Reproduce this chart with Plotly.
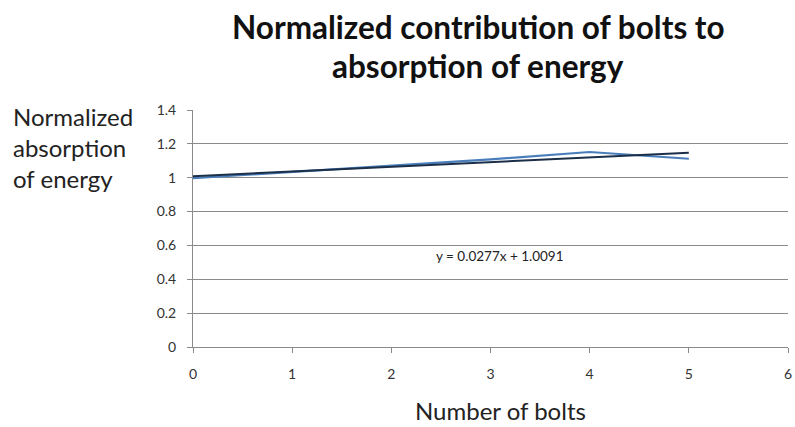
import plotly.graph_objects as go

# Data
bolts = [0, 1, 2, 3, 4, 5]
absorption = [0.997, 1.033, 1.068, 1.108, 1.152, 1.112]
trend_slope = 0.0277
trend_intercept = 1.0091
x_ticks = [0, 1, 2, 3, 4, 5, 6]
y_ticks = [0, 0.2, 0.4, 0.6, 0.8, 1, 1.2, 1.4]
y_tick_labels = ["0", "0.2", "0.4", "0.6", "0.8", "1", "1.2", "1.4"]

trend_x = [min(bolts), max(bolts)]
trend_y = [trend_slope * v + trend_intercept for v in trend_x]

FONT = "Lato"
W, H = 795, 427
L, R, T, B = 193, 3, 110, 80
pw, ph = W - L - R, H - T - B

def px(xp):
    return (xp - L) / pw

def py(yp):
    return (H - B - yp) / ph

fig = go.Figure()
fig.add_trace(go.Scatter(x=bolts, y=absorption, mode="lines",
                         line=dict(color="#4a7ebb", width=2.2), showlegend=False))
fig.add_trace(go.Scatter(x=trend_x, y=trend_y, mode="lines",
                         line=dict(color="#1c2f48", width=2), showlegend=False))

annotations = [
    dict(text="<b>Normalized contribution of bolts to</b>", x=px(480), y=py(27),
         xref="paper", yref="paper", showarrow=False, xanchor="center", yanchor="middle",
         font=dict(family=FONT, size=31.5, color="#111111")),
    dict(text="<b>absorption of energy</b>", x=px(480), y=py(66),
         xref="paper", yref="paper", showarrow=False, xanchor="center", yanchor="middle",
         font=dict(family=FONT, size=31.5, color="#111111")),
    dict(text="Normalized<br>absorption<br>of energy", x=px(10), y=py(100),
         xref="paper", yref="paper", showarrow=False, xanchor="left", yanchor="top",
         align="left", font=dict(family=FONT, size=24, color="#222222")),
    dict(text="Number of bolts", x=px(503), y=py(410),
         xref="paper", yref="paper", showarrow=False, xanchor="center", yanchor="middle",
         font=dict(family=FONT, size=24, color="#222222")),
    dict(text="y = 0.0277x + 1.0091", x=px(502), y=py(256),
         xref="paper", yref="paper", showarrow=False, xanchor="center", yanchor="middle",
         font=dict(family=FONT, size=13.5, color="#222222")),
]

fig.update_layout(
    width=W, height=H,
    margin=dict(l=L, r=R, t=T, b=B),
    paper_bgcolor="white", plot_bgcolor="white",
    annotations=annotations,
    xaxis=dict(range=[0, 6], tickvals=x_ticks, showgrid=False, zeroline=False,
               showline=True, linecolor="#8a8a8a", linewidth=1,
               ticks="outside", ticklen=5, tickcolor="#8a8a8a",
               ticklabelstandoff=9, ticklabeloverflow="allow",
               tickfont=dict(family=FONT, size=14, color="#333333")),
    yaxis=dict(range=[0, 1.4], tickvals=y_ticks, ticktext=y_tick_labels,
               showgrid=True, gridcolor="#8a8a8a", gridwidth=1, zeroline=False,
               showline=True, linecolor="#8a8a8a", linewidth=1,
               ticks="outside", ticklen=5, tickcolor="#8a8a8a",
               ticklabelstandoff=8,
               tickfont=dict(family=FONT, size=14, color="#333333")),
)

fig.write_html("out.html")
